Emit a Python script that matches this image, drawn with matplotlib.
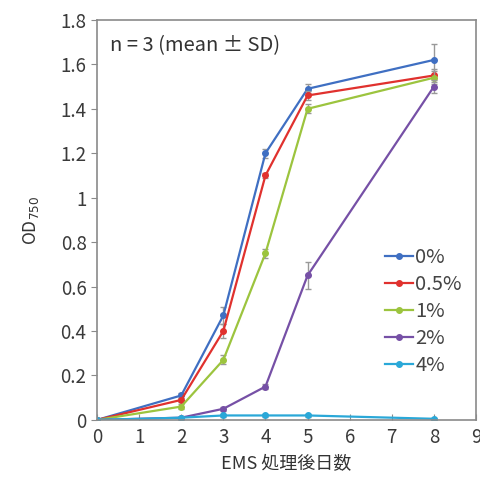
import numpy as np
import matplotlib
matplotlib.use('Agg')
import matplotlib.pyplot as plt

plt.rcParams['font.family'] = ['Noto Sans CJK JP', 'DejaVu Sans']

# EMS処理後日数
days = [0, 2, 3, 4, 5, 8]
labels = ['0%', '0.5%', '1%', '2%', '4%']
colors = ['#3f6fc2', '#e0312e', '#9cc43e', '#7650a6', '#2aa8d8']

# OD750 平均値
od_0 = [0.00, 0.11, 0.47, 1.20, 1.49, 1.62]
od_05 = [0.00, 0.09, 0.40, 1.10, 1.46, 1.55]
od_1 = [0.00, 0.06, 0.27, 0.75, 1.40, 1.54]
od_2 = [0.00, 0.01, 0.05, 0.15, 0.65, 1.50]
od_4 = [0.00, 0.01, 0.02, 0.02, 0.02, 0.005]

# 標準偏差
sd_0 = [0.00, 0.01, 0.04, 0.02, 0.02, 0.07]
sd_05 = [0.00, 0.01, 0.03, 0.01, 0.02, 0.03]
sd_1 = [0.00, 0.01, 0.02, 0.02, 0.02, 0.03]
sd_2 = [0.00, 0.005, 0.01, 0.01, 0.06, 0.03]
sd_4 = [0.00, 0.005, 0.005, 0.005, 0.005, 0.005]

means = [od_0, od_05, od_1, od_2, od_4]
sds = [sd_0, sd_05, sd_1, sd_2, sd_4]

fig = plt.figure(figsize=(4.81, 4.86), dpi=100)
ax = fig.add_axes([0.2017, 0.136, 0.7879, 0.823])

for m, s, c, lab in zip(means, sds, colors, labels):
    # エラーバーは凡例に入れない
    ax.errorbar(days, m, yerr=s, fmt='none', ecolor='#999999', elinewidth=1, capsize=2)
    ax.plot(days, m, color=c, marker='o', markersize=4, lw=1.6, label=lab)

ax.set_xlim(0, 9)
ax.set_ylim(0, 1.8)
ax.set_xticks(range(10))
ax.set_yticks(np.arange(0, 1.81, 0.2))
ax.set_yticklabels(['0', '0.2', '0.4', '0.6', '0.8', '1', '1.2', '1.4', '1.6', '1.8'])

for sp in ax.spines.values():
    sp.set_color('#8a8a8a')
    sp.set_linewidth(1.2)
ax.tick_params(axis='x', direction='in', length=4, color='#8a8a8a', labelsize=13.5, labelcolor='#3a3a3a', pad=5)
ax.tick_params(axis='y', direction='out', length=4, color='#8a8a8a', labelsize=13.5, labelcolor='#3a3a3a')

ax.set_xlabel('EMS 処理後日数', fontsize=13, color='#333333', labelpad=5)
ax.set_ylabel('OD$_{750}$', fontsize=12.5, color='#333333', labelpad=14)

ax.text(0.3, 1.66, 'n = 3 (mean ± SD)', fontsize=14.5, color='#333333')

ax.legend(loc='center right', bbox_to_anchor=(1.01, 0.27), frameon=False, fontsize=14.5,
          handlelength=1.4, handletextpad=0.1, labelspacing=0.3, labelcolor='#444444')

fig.savefig('out.png', dpi=100)
